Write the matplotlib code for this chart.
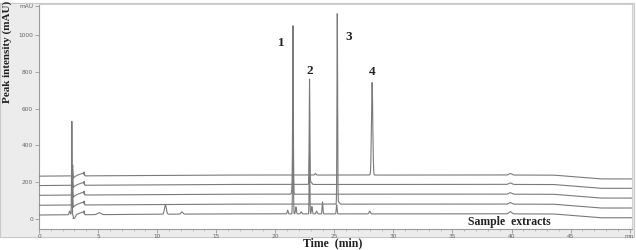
import numpy as np
import matplotlib
matplotlib.use("Agg")
import matplotlib.pyplot as plt
from matplotlib.patches import Rectangle

# ---------------- data ----------------
trace_baselines = [25, 78, 132, 185, 236]          # mAU offset of each stacked trace (bottom = sample)
drift_t = [0, 15, 43.5, 47.5, 50.2]                 # baseline drift knots (min)
drift_v = [-3, 3, 3, -18, -18]                      # baseline drift values (mAU)

# peaks: (retention time min, height above baseline mAU, sigma min)
sample_peaks = [(2.6, 20, 0.05), (2.78, 510, 0.022), (3.0, -14, 0.08), (5.1, 10, 0.15),
                (10.7, 50, 0.08), (12.1, 12, 0.08), (21.05, 20, 0.04), (21.5, 785, 0.028),
                (21.75, 38, 0.04), (22.2, 12, 0.05), (22.9, 333, 0.028), (23.1, 40, 0.04),
                (23.5, 15, 0.05), (24.0, 65, 0.035), (25.2, 50, 0.035), (28.0, 15, 0.06),
                (39.9, 12, 0.12)]
std1_peaks = [(2.85, 60, 0.02), (25.25, 1030, 0.028), (25.35, 12, 0.08), (39.9, 8, 0.12)]
std2_peaks = [(2.85, 60, 0.02), (21.45, 40, 0.05), (21.5, 891, 0.028), (39.9, 8, 0.12)]
std3_peaks = [(2.85, 60, 0.02), (22.9, 566, 0.028), (23.0, 15, 0.08), (39.9, 8, 0.12)]
std4_peaks = [(2.85, 60, 0.02), (23.4, 8, 0.05), (28.2, 503, 0.055), (39.9, 8, 0.12)]
trace_peaks = [sample_peaks, std1_peaks, std2_peaks, std3_peaks, std4_peaks]

# solvent front disturbance (min, mAU relative to baseline)
front_start, front_end = 2.9, 3.82
front_low, front_high = -16, 16
front_spike = 12

peak_labels = ["1", "2", "3", "4"]
peak_label_x = [20.5, 22.9, 26.2, 28.2]
peak_label_y = [957, 806, 988, 797]

x_ticks = [0, 5, 10, 15, 20, 25, 30, 35, 40, 45, 50]
x_ticklabels = ["0", "5", "10", "15", "20", "25", "30", "35", "40", "45", "mn"]
y_ticks = [0, 200, 400, 600, 800, 1000, 1157]
y_ticklabels = ["0", "200", "400", "600", "800", "1000", "mAU"]

# ---------------- figure ----------------
W, H = 636, 250
fig = plt.figure(figsize=(W / 100, H / 100), dpi=100)
fig.patch.set_facecolor("white")
# grey instrument panel behind the plot
panel = Rectangle((0, 1 - 237 / H), 634 / W, (237 - 3) / H,
                  transform=fig.transFigure, facecolor="#ececec",
                  edgecolor="#c8c8c8", lw=0.8, zorder=-5)
fig.patches.append(panel)

ax = fig.add_axes([39 / W, 1 - 229 / H, (632 - 39) / W, (229 - 4) / H])
ax.set_zorder(2)
ax.set_facecolor("white")
ax.set_xlim(0, 50.2)
ax.set_ylim(-54, 1168)

t = np.linspace(0, 50.2, 12000)
drift = np.interp(t, drift_t, drift_v)

for base, peaks in zip(trace_baselines, trace_peaks):
    y = base + drift.copy()
    # solvent front S-shape
    m = (t >= front_start) & (t <= front_end)
    frac = (t[m] - front_start) / (front_end - front_start)
    y[m] += front_low + (front_high - front_low) * np.sqrt(frac)
    y += front_spike * np.exp(-0.5 * ((t - 3.84) / 0.015) ** 2)
    for rt, h, s in peaks:
        y += h * np.exp(-0.5 * ((t - rt) / s) ** 2)
    ax.plot(t, y, color="#7a7a7a", lw=0.8, zorder=3)

for lab, lx, ly in zip(peak_labels, peak_label_x, peak_label_y):
    ax.text(lx, ly, lab, ha="center", va="center", fontsize=9.5, fontweight="bold",
            family="Liberation Serif", color="#222222")

ax.text(39.8, -15, "Sample  extracts", ha="center", va="center", fontsize=8.5,
        fontweight="bold", family="Liberation Serif", color="#222222")

ax.set_xticks(x_ticks)
ax.set_xticklabels(x_ticklabels)
ax.set_xticks(np.arange(0, 50.5, 1), minor=True)
ax.set_yticks(y_ticks)
ax.set_yticklabels(y_ticklabels)
ax.tick_params(axis="both", which="major", labelsize=4.2, labelcolor="#666666",
               color="#999999", length=3, width=0.6, pad=1.2)
ax.tick_params(axis="x", which="major", pad=0.4)
ax.tick_params(axis="x", which="minor", color="#aaaaaa", length=1.5, width=0.5)
for side in ["left", "bottom"]:
    ax.spines[side].set_color("#9a9a9a")
    ax.spines[side].set_linewidth(0.8)
for side in ["top", "right"]:
    ax.spines[side].set_color("#d0d0d0")
    ax.spines[side].set_linewidth(0.8)

fig.text(7 / W, 1 - 52 / H, "Peak intensity (mAU)", rotation=90, ha="center", va="center",
         fontsize=8, fontweight="bold", family="Liberation Serif", color="#222222",
         zorder=5)
fig.text(333 / W, 0.3 / H, "Time  (min)", ha="center", va="bottom",
         fontsize=8.5, fontweight="bold", family="Liberation Serif", color="#222222",
         zorder=5)

fig.savefig("out.png", dpi=100, facecolor="white")
